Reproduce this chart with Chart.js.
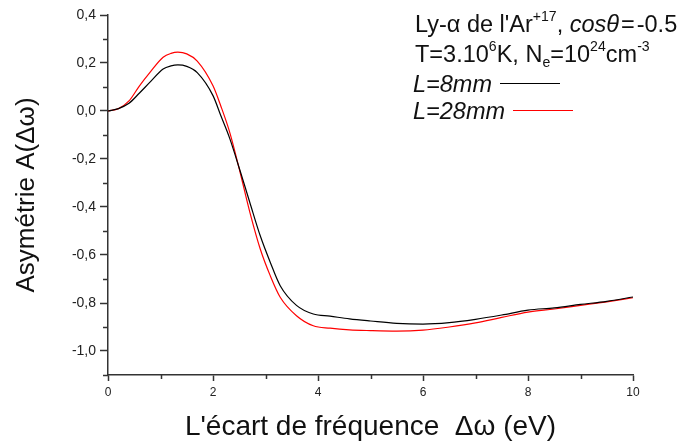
<!DOCTYPE html>
<html>
<head>
<meta charset="utf-8">
<script src="https://cdn.jsdelivr.net/npm/chart.js@4.4.1/dist/chart.umd.min.js"></script>
<style>
  body { margin: 0; background: #fff; }
  #wrap { position: relative; width: 679px; height: 445px; }
  #legend { position: absolute; left: 415px; top: 0; font-family: "Liberation Sans", Arial, sans-serif; font-size: 23.5px; color: #111; }
  #legend div { position: absolute; white-space: nowrap; left: 0; line-height: 27px; }
  #legend sup, #legend sub { font-size: 0.6em; line-height: 0; position: relative; vertical-align: baseline; }
  #legend sup { top: -0.75em; }
  #legend sub { top: 0.35em; }
  .swatch { display: inline-block; width: 60px; height: 1px; vertical-align: middle; margin-left: 8px; position: relative; top: -2px; }
</style>
</head>
<body>
<div id="wrap">
  <canvas id="myChart" width="679" height="445"></canvas>
  <div id="legend">
    <div style="top:11px">Ly-&alpha; de l'Ar<sup>+17</sup>, <i>cos</i><i>&theta;</i>&#8202;=&#8202;-0.5</div>
    <div style="top:41px">T=3.10<sup>6</sup>K, N<sub>e</sub>=10<sup>24</sup>cm<sup>-3</sup></div>
    <div style="top:71px; left:-2px"><i>L=8mm</i><span class="swatch" style="background:#000"></span></div>
    <div style="top:98px; left:-2px"><i>L=28mm</i><span class="swatch" style="background:#ff0000"></span></div>
  </div>
</div>
<script>
// Data
const deltaOmega = [0, 0.2, 0.4, 0.6, 0.8, 1.05, 1.2, 1.33, 1.5, 1.7, 2.0, 2.15, 2.32, 2.51, 2.7, 2.9, 3.09, 3.28, 3.59, 3.91, 4.23, 4.6, 5.0, 5.5, 6.0, 6.5, 7.0, 7.5, 8.0, 8.5, 9.0, 9.5, 10];
const asymL8 = [0, 0.01, 0.032, 0.075, 0.12, 0.175, 0.188, 0.192, 0.186, 0.16, 0.064, -0.02, -0.115, -0.245, -0.38, -0.52, -0.63, -0.728, -0.81, -0.846, -0.855, -0.866, -0.875, -0.885, -0.888, -0.882, -0.868, -0.85, -0.83, -0.82, -0.806, -0.793, -0.775];
const asymL28 = [0, 0.01, 0.042, 0.105, 0.161, 0.224, 0.24, 0.245, 0.238, 0.208, 0.105, 0.02, -0.09, -0.25, -0.42, -0.575, -0.686, -0.776, -0.853, -0.895, -0.905, -0.912, -0.915, -0.917, -0.913, -0.9, -0.883, -0.86, -0.838, -0.825, -0.81, -0.795, -0.778];
const yMajorTicks = [0.4, 0.2, 0, -0.2, -0.4, -0.6, -0.8, -1.0];
const xMajorTicks = [0, 2, 4, 6, 8, 10];

function toPoints(xs, ys) {
  return xs.map((x, i) => ({ x: x, y: ys[i] }));
}

function isMajor(v, list) {
  return list.some(m => Math.abs(m - v) < 1e-6);
}

// minor ticks are shorter than the major ones
const minorTicks = {
  id: 'minorTicks',
  afterDraw(chart) {
    const ctx = chart.ctx;
    const { x, y } = chart.scales;
    ctx.save();
    ctx.strokeStyle = '#333';
    ctx.lineWidth = 1.5;
    y.ticks.forEach(t => {
      if (isMajor(t.value, yMajorTicks)) return;
      const py = Math.round(y.getPixelForValue(t.value)) + 0.5;
      ctx.beginPath();
      ctx.moveTo(y.right - 5, py);
      ctx.lineTo(y.right, py);
      ctx.stroke();
    });
    x.ticks.forEach(t => {
      if (isMajor(t.value, xMajorTicks)) return;
      const px = Math.round(x.getPixelForValue(t.value)) + 0.5;
      ctx.beginPath();
      ctx.moveTo(px, x.top);
      ctx.lineTo(px, x.top + 4);
      ctx.stroke();
    });
    ctx.restore();
  }
};

const font = 'Liberation Sans';

new Chart(document.getElementById('myChart'), {
  type: 'line',
  data: {
    datasets: [
      { label: 'L=8mm', data: toPoints(deltaOmega, asymL8), borderColor: '#000', borderWidth: 1.2, pointRadius: 0, cubicInterpolationMode: 'monotone' },
      { label: 'L=28mm', data: toPoints(deltaOmega, asymL28), borderColor: '#ff0000', borderWidth: 1.2, pointRadius: 0, cubicInterpolationMode: 'monotone' }
    ]
  },
  options: {
    responsive: false,
    animation: false,
    layout: { padding: { top: 15, right: 46, left: 0, bottom: 0 } },
    plugins: { legend: { display: false }, tooltip: { enabled: false } },
    scales: {
      x: {
        type: 'linear',
        min: 0,
        max: 10,
        afterFit(scale) { scale.height = 70; },
        border: { display: true, color: '#333', width: 1.5 },
        grid: {
          drawOnChartArea: false,
          drawTicks: true,
          tickLength: 6,
          tickWidth: 1.5,
          tickColor: c => isMajor(c.tick.value, xMajorTicks) ? '#333' : 'rgba(0,0,0,0)'
        },
        ticks: {
          stepSize: 1,
          padding: 4,
          color: '#222',
          font: { family: font, size: 12 },
          maxRotation: 0,
          autoSkip: false,
          callback: v => isMajor(v, xMajorTicks) ? String(v) : ''
        },
        title: {
          display: true,
          text: "L'écart de fréquence  Δω (eV)",
          color: '#111',
          font: { family: font, size: 28 },
          padding: { top: 0, bottom: 1 }
        }
      },
      y: {
        type: 'linear',
        min: -1.1,
        max: 0.4,
        afterFit(scale) { scale.width = 108; },
        border: { display: true, color: '#333', width: 1.5 },
        grid: {
          drawOnChartArea: false,
          drawTicks: true,
          tickLength: 8,
          tickWidth: 1.5,
          tickColor: c => isMajor(c.tick.value, yMajorTicks) ? '#333' : 'rgba(0,0,0,0)'
        },
        ticks: {
          stepSize: 0.1,
          padding: 4,
          color: '#222',
          font: { family: font, size: 14 },
          autoSkip: false,
          callback: v => isMajor(v, yMajorTicks) ? v.toFixed(1).replace('.', ',') : ''
        },
        title: {
          display: true,
          text: 'Asymétrie A(Δω)',
          color: '#111',
          font: { family: font, size: 26 },
          padding: { top: 11, bottom: 0 }
        }
      }
    }
  },
  plugins: [minorTicks]
});
</script>
</body>
</html>
